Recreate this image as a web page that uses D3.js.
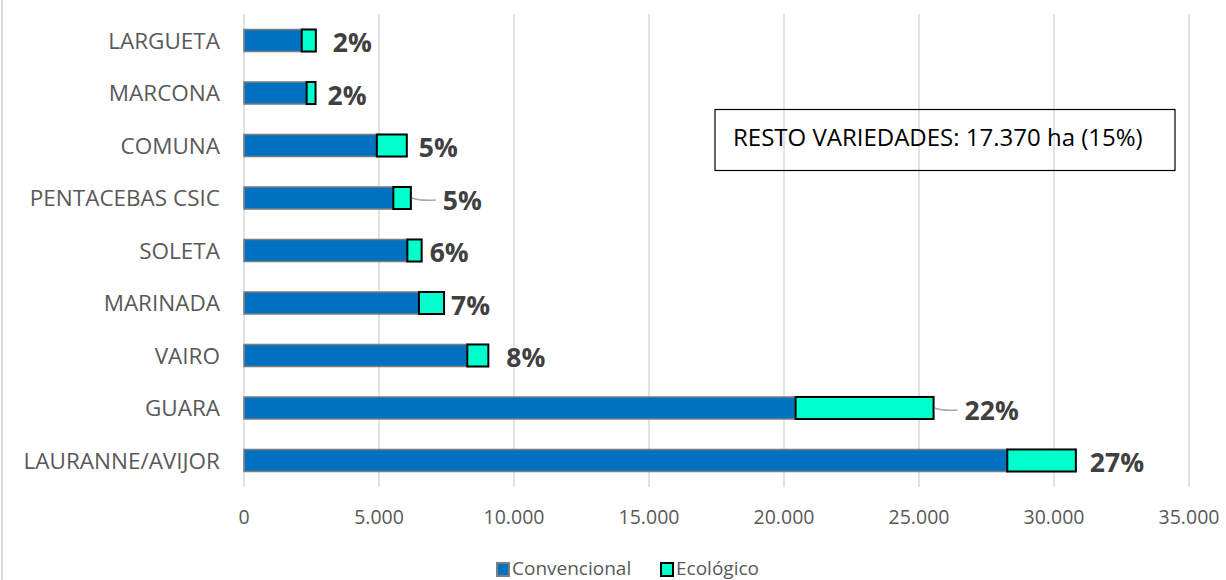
<!DOCTYPE html>
<html lang="es">
<head>
<meta charset="UTF-8">
<title>Variedades de almendro</title>
<style>
  *{margin:0;padding:0;}
  body{background:#fff;}
  svg text{font-family:"Open Sans",sans-serif;}
</style>
</head>
<body>
<div id="chart"></div>
<script src="https://cdn.jsdelivr.net/npm/d3@7/dist/d3.min.js"></script>
<script>
// datos (hectáreas)
var categories = ['LARGUETA','MARCONA','COMUNA','PENTACEBAS CSIC','SOLETA','MARINADA','VAIRO','GUARA','LAURANNE/AVIJOR']
var convencional = [2140, 2320, 4920, 5530, 6050, 6480, 8270, 20430, 28270]
var ecologico = [520, 330, 1110, 650, 530, 930, 780, 5110, 2540]
var pctLabels = ['2%','2%','5%','5%','6%','7%','8%','22%','27%']
var xTicks = [0, 5000, 10000, 15000, 20000, 25000, 30000, 35000]
var seriesNames = ['Convencional','Ecológico']
var note = 'RESTO VARIEDADES: 17.370 ha (15%)'

// desplazamiento manual de las etiquetas (como en el original)
var labelDx = [17, 12, 12, 32, 8, 7, 18, 31, 14]
var leader = [false, false, false, true, false, false, false, true, false]

var W = 1226, H = 580
var svg = d3.select('#chart').append('svg').attr('width', W).attr('height', H)

var x = d3.scaleLinear().domain([0, 35000]).range([244, 1189])
var y = d3.scaleBand().domain(categories).range([14, 487]).paddingInner(0.58).paddingOuter(0.295)
var fmt = function (d) { return d3.format(',')(d).replace(/,/g, '.') }

// borde izquierdo
svg.append('line').attr('x1', 2).attr('x2', 2).attr('y1', 0).attr('y2', H)
  .attr('stroke', '#d9d9d9').attr('stroke-width', 2)

// rejilla
svg.append('g').selectAll('line').data(xTicks).enter().append('line')
  .attr('x1', function (d) { return x(d) }).attr('x2', function (d) { return x(d) })
  .attr('y1', 14).attr('y2', 487)
  .attr('stroke', '#d9d9d9').attr('stroke-width', 1.5)

// etiquetas del eje x
svg.append('g').selectAll('text').data(xTicks).enter().append('text')
  .attr('x', function (d) { return x(d) }).attr('y', 524)
  .attr('text-anchor', 'middle').attr('font-size', 19.5).attr('fill', '#595959')
  .text(fmt)

// categorías
svg.append('g').selectAll('text').data(categories).enter().append('text')
  .attr('x', 220).attr('y', function (d) { return y(d) + y.bandwidth() / 2 })
  .attr('dy', '0.36em').attr('text-anchor', 'end')
  .attr('font-size', 22.5).attr('fill', '#595959')
  .text(function (d) { return d })

// barras
var bars = svg.append('g').selectAll('g').data(categories).enter().append('g')
bars.append('rect')
  .attr('x', x(0))
  .attr('y', function (d) { return y(d) })
  .attr('width', function (d, i) { return x(convencional[i]) - x(0) })
  .attr('height', y.bandwidth())
  .attr('fill', '#0070c0').attr('stroke', '#7f7f7f').attr('stroke-width', 1.5)
bars.append('rect')
  .attr('x', function (d, i) { return x(convencional[i]) })
  .attr('y', function (d) { return y(d) })
  .attr('width', function (d, i) { return x(convencional[i] + ecologico[i]) - x(convencional[i]) })
  .attr('height', y.bandwidth())
  .attr('fill', '#00ffcc').attr('stroke', '#000').attr('stroke-width', 2)

// líneas guía
bars.filter(function (d, i) { return leader[i] }).append('path')
  .attr('d', function (d) {
    var i = categories.indexOf(d)
    var x0 = x(convencional[i] + ecologico[i]) + 1
    var yc = y(d) + y.bandwidth() / 2
    var x1 = x0 + labelDx[i] - 8
    return 'M' + x0 + ',' + yc + ' Q' + (x0 + 8) + ',' + (yc + 3) + ' ' + x1 + ',' + (yc + 2)
  })
  .attr('fill', 'none').attr('stroke', '#a6a6a6').attr('stroke-width', 1.5)

// porcentajes
bars.append('text')
  .attr('x', function (d, i) { return x(convencional[i] + ecologico[i]) + labelDx[i] })
  .attr('y', function (d) { return y(d) + y.bandwidth() / 2 + 2 })
  .attr('dy', '0.36em')
  .attr('font-size', 26.5).attr('font-weight', 'bold').attr('fill', '#404040')
  .text(function (d, i) { return pctLabels[i] })

// cuadro de nota
svg.append('rect').attr('x', 715).attr('y', 109.5).attr('width', 460).attr('height', 61)
  .attr('fill', 'none').attr('stroke', '#000').attr('stroke-width', 1.2)
svg.append('text').attr('x', 733).attr('y', 146)
  .attr('font-size', 24).attr('fill', '#000').text(note)

// leyenda
var legendColors = [['#0070c0', '#7f7f7f'], ['#00ffcc', '#000']]
var legendX = [496, 660]
var lg = svg.append('g').selectAll('g').data(seriesNames).enter().append('g')
  .attr('transform', function (d, i) { return 'translate(' + legendX[i] + ',562)' })
lg.append('rect').attr('x', 1).attr('y', 1).attr('width', 12).attr('height', 13)
  .attr('fill', function (d, i) { return legendColors[i][0] })
  .attr('stroke', function (d, i) { return legendColors[i][1] }).attr('stroke-width', 2)
lg.append('text').attr('x', 16).attr('y', 13).attr('font-size', 19).attr('fill', '#595959')
  .text(function (d) { return d })
</script>
</body>
</html>
